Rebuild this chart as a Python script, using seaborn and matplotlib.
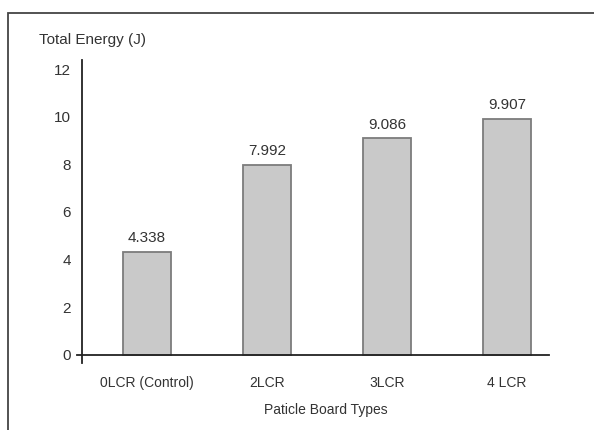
import pandas as pd
import seaborn as sns
import matplotlib.pyplot as plt
from matplotlib.patches import Rectangle

# Data
board_types = ["0LCR (Control)", "2LCR", "3LCR", "4 LCR"]
total_energy = [4.338, 7.992, 9.086, 9.907]
value_labels = ["4.338", "7.992", "9.086", "9.907"]
y_ticks = [0, 2, 4, 6, 8, 10, 12]

df = pd.DataFrame({"type": board_types, "energy": total_energy})

sns.set_style("white")
plt.rcParams["font.family"] = ["Liberation Sans", "DejaVu Sans"]

fig = plt.figure(figsize=(5.94, 4.30), dpi=100)
ax = fig.add_axes([77 / 594, 1 - 363 / 430, 472 / 594, (363 - 59.5) / 430])

sns.barplot(data=df, x="type", y="energy", ax=ax, width=0.4,
            color="#c9c9c9", edgecolor="#7c7c7c", linewidth=1.3, saturation=1)

ax.bar_label(ax.containers[0], labels=value_labels, padding=5,
             fontsize=11, color="#333333")

ax.set_xlim(-0.58, 3.35)
ax.set_ylim(-0.34, 12.4)
ax.set_yticks(y_ticks)

# spines: y-axis at a data position so the x-axis sticks out a little
for s in ["top", "right"]:
    ax.spines[s].set_visible(False)
ax.spines["left"].set_position(("data", -0.54))
ax.spines["bottom"].set_position(("data", 0))
for s in ["left", "bottom"]:
    ax.spines[s].set_color("#222222")
    ax.spines[s].set_linewidth(1.3)

ax.tick_params(axis="y", length=0, pad=8, labelsize=11, labelcolor="#333333")
ax.tick_params(axis="x", length=0, pad=15, labelsize=10, labelcolor="#333333")
ax.set_xlabel("")
ax.set_ylabel("")

fig.text(39 / 594, 1 - 40 / 430, "Total Energy (J)", ha="left", va="center",
         fontsize=11, color="#333333")
fig.text(326 / 594, 1 - 410 / 430, "Paticle Board Types", ha="center",
         va="center", fontsize=10, color="#333333")

# outer frame of the scanned figure
fig.patches.append(Rectangle((8 / 594, -0.05), 1.1, 0.05 + 1 - 13 / 430,
                             transform=fig.transFigure, fill=False,
                             edgecolor="#444444", linewidth=1.3))

fig.savefig("out.png", dpi=100)
